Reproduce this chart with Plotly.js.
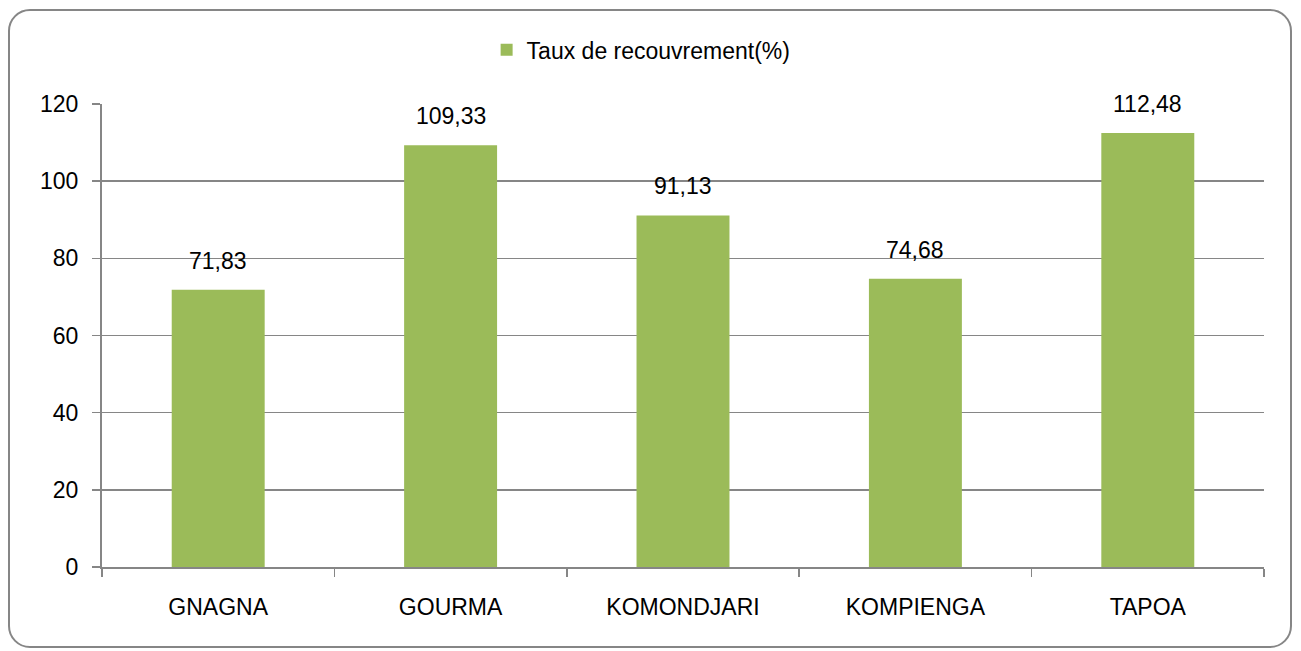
<!DOCTYPE html>
<html><head><meta charset="utf-8">
<script src="https://cdn.plot.ly/plotly-3.0.1.min.js"></script>
<style>
html,body{margin:0;padding:0;background:#fff;}
#wrap{position:relative;width:1301px;height:651px;}
#chart{width:1301px;height:651px;}
#frame{position:absolute;left:8px;top:9px;width:1284px;height:639px;border:2px solid #868686;border-radius:22px;pointer-events:none;box-sizing:border-box;}
</style></head>
<body>
<div id="wrap"><div id="chart"></div><div id="frame"></div></div>
<script>
var categories = ["GNAGNA", "GOURMA", "KOMONDJARI", "KOMPIENGA", "TAPOA"];
var values = [71.83, 109.33, 91.13, 74.68, 112.48];
var seriesName = "Taux de recouvrement(%)";
var yTicks = [0, 20, 40, 60, 80, 100, 120];

var fontFam = '"Liberation Sans Narrow", "Arial Narrow", "Liberation Sans", Arial, sans-serif';
var labels = values.map(function(v){ return v.toFixed(2).replace('.', ','); });

var trace = {
  type: 'bar',
  x: categories,
  y: values,
  name: seriesName,
  width: 0.4,
  marker: {color: '#9BBB59'},
  showlegend: true,
  hoverinfo: 'x+y'
};

var annotations = categories.map(function(c, i){
  return {x: c, y: values[i], xref: 'x', yref: 'y', text: labels[i], showarrow: false,
          yanchor: 'middle', yshift: 29, font: {family: fontFam, size: 23, color: '#000'}};
});

var layout = {
  width: 1301, height: 651,
  margin: {l: 102, r: 37, t: 104, b: 84},
  paper_bgcolor: '#fff', plot_bgcolor: '#fff',
  font: {family: fontFam, size: 23, color: '#000'},
  showlegend: true,
  legend: {orientation: 'h', x: 0.331, xanchor: 'left', y: 1.117, yanchor: 'middle',
           font: {family: fontFam, size: 23, color: '#000'}, itemwidth: 30},
  annotations: annotations,
  xaxis: {
    type: 'category', tickson: 'boundaries', ticks: 'outside', ticklen: 8,
    tickcolor: '#868686', tickwidth: 1.5, showline: true, linecolor: '#868686', linewidth: 2,
    showgrid: false, tickfont: {family: fontFam, size: 23, color: '#000'}, ticklabelstandoff: 18
  },
  yaxis: {
    range: [0, 120], tickvals: yTicks, ticktext: yTicks.map(String),
    ticks: 'outside', ticklen: 8, tickcolor: '#868686', tickwidth: 1.5,
    showline: true, linecolor: '#868686', linewidth: 2,
    showgrid: true, gridcolor: '#868686', gridwidth: 1.5, zeroline: false,
    tickfont: {family: fontFam, size: 23, color: '#000'}, ticklabelstandoff: 9
  }
};

Plotly.newPlot('chart', [trace], layout, {displayModeBar: false, staticPlot: true});
</script>
</body></html>
